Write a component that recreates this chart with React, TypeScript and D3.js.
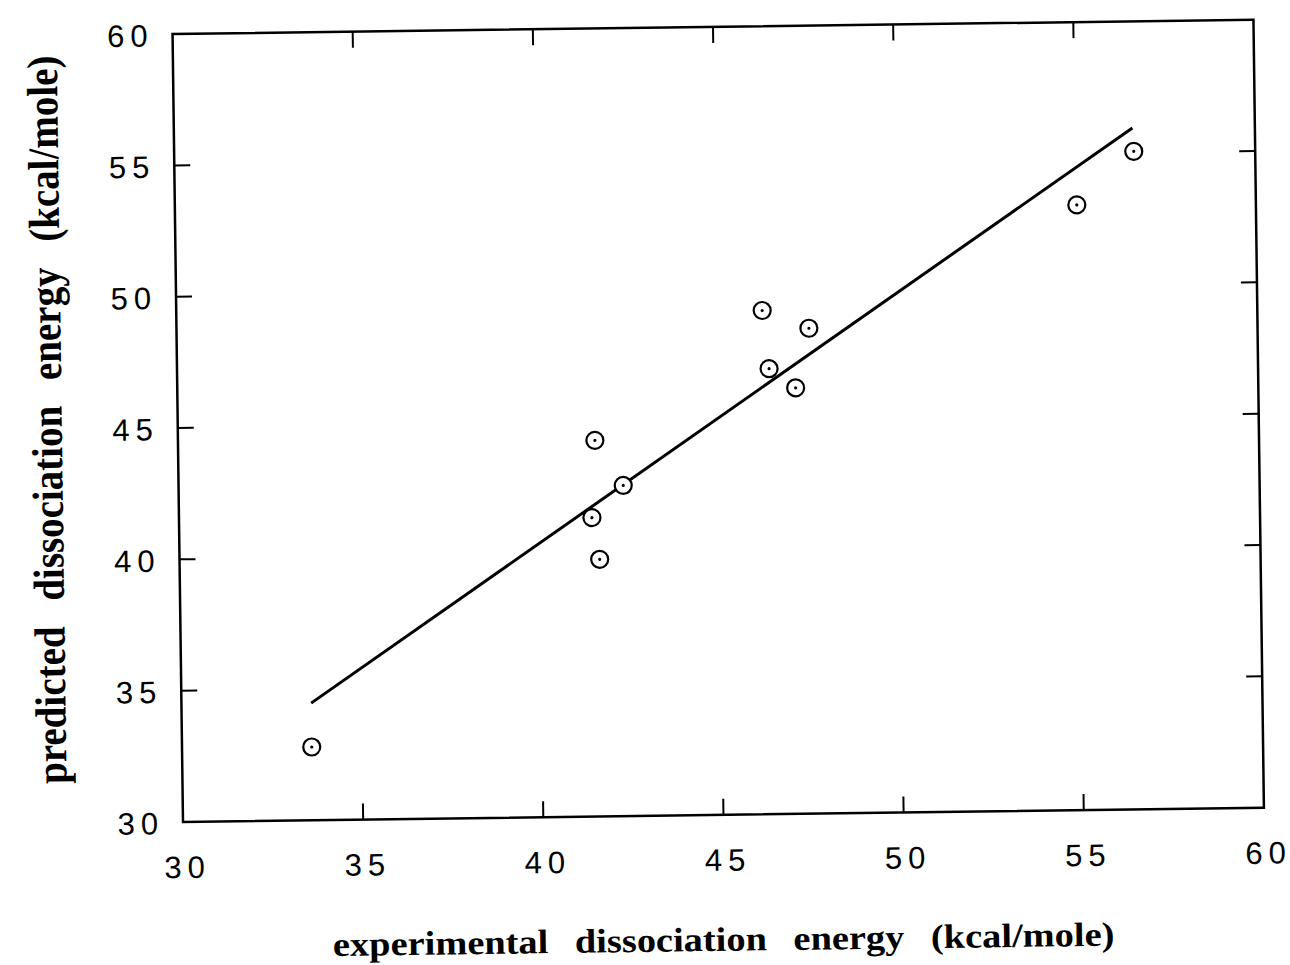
import React from "react";
import * as d3 from "d3";

// values
const xTicks = [30, 35, 40, 45, 50, 55, 60];
const yTicks = [30, 35, 40, 45, 50, 55, 60];
const experimental = [33.6, 41.57, 42.34, 41.46, 41.66, 46.26, 47.55, 46.43, 47.16, 56.63, 55.03];
const predicted = [32.79, 44.32, 42.59, 41.38, 39.79, 49.18, 48.48, 46.96, 46.22, 55.05, 53.04];
const fitX = [33.6, 56.6];
const fitY = [34.46, 55.94];

const xTitle = "experimental dissociation energy (kcal/mole)";
const yTitle = "predicted dissociation energy (kcal/mole)";

const W = 1290;
const H = 965;
const left = 183;
const right = 1264;
const top = 34;
const bottom = 822;
const tilt = -0.76; // the scan is slightly rotated
const tickLen = 16;

const sans = "'Liberation Sans', Arial, Helvetica, sans-serif";
const serif = "'Liberation Serif', 'Times New Roman', Times, serif";

// spaced digits without trailing letter-spacing
const Spaced = ({ s, gap }: { s: string; gap: number }) => (
  <>
    {s.split("").map((c, i) => (
      <tspan key={i} dx={i ? gap : 0}>
        {c}
      </tspan>
    ))}
  </>
);

export default function App() {
  const x = d3.scaleLinear().domain([30, 60]).range([left, right]);
  const y = d3.scaleLinear().domain([30, 60]).range([bottom, top]);

  const fit: [number, number][] = fitX.map((v, i) => [v, fitY[i]]);
  const line = d3
    .line<[number, number]>()
    .x((d) => x(d[0]))
    .y((d) => y(d[1]));

  const inner = xTicks.slice(1, -1);
  const innerY = yTicks.slice(1, -1);
  const gap = 6;

  return (
    <svg
      width={W}
      height={H}
      style={{ position: "absolute", left: 0, top: 0, background: "#fff" }}
    >
      <rect width={W} height={H} fill="#fff" />
      <g transform={`rotate(${tilt},${left},${bottom})`}>
        {/* frame */}
        <rect
          x={left}
          y={top}
          width={right - left}
          height={bottom - top}
          fill="none"
          stroke="#000"
          strokeWidth={2.5}
        />
        {/* inward ticks */}
        {inner.map((t) => (
          <g key={"xt" + t} stroke="#000" strokeWidth={2}>
            <line x1={x(t)} x2={x(t)} y1={bottom} y2={bottom - tickLen} />
            <line x1={x(t)} x2={x(t)} y1={top} y2={top + tickLen} />
          </g>
        ))}
        {innerY.map((t) => (
          <g key={"yt" + t} stroke="#000" strokeWidth={2}>
            <line x1={left} x2={left + tickLen} y1={y(t)} y2={y(t)} />
            <line x1={right} x2={right - tickLen} y1={y(t)} y2={y(t)} />
          </g>
        ))}
        {/* tick labels */}
        {xTicks.map((t) => (
          <text
            key={"xl" + t}
            x={x(t) + 1}
            y={bottom + 56}
            textAnchor="middle"
            fontFamily={sans}
            fontSize={31}
          >
            <Spaced s={String(t)} gap={gap} />
          </text>
        ))}
        {yTicks.map((t) => (
          <text
            key={"yl" + t}
            x={left - 25}
            y={y(t) + 1}
            textAnchor="end"
            dominantBaseline="central"
            fontFamily={sans}
            fontSize={31}
          >
            <Spaced s={String(t)} gap={gap} />
          </text>
        ))}
        {/* regression line */}
        <path d={line(fit) ?? ""} fill="none" stroke="#000" strokeWidth={3} />
        {/* points */}
        {experimental.map((v, i) => (
          <g key={"p" + i}>
            <circle
              cx={x(v)}
              cy={y(predicted[i])}
              r={8.5}
              fill="#fff"
              stroke="#000"
              strokeWidth={2.2}
            />
            <circle cx={x(v)} cy={y(predicted[i])} r={1.6} fill="#000" />
          </g>
        ))}
        {/* axis titles */}
        <text
          transform={`translate(722,958) scale(1.13,1)`}
          textAnchor="middle"
          fontFamily={serif}
          fontWeight="bold"
          fontSize={34}
          wordSpacing={15}
        >
          {xTitle}
        </text>
        <text
          transform={`translate(67,418) rotate(-90) scale(1,1.12)`}
          textAnchor="middle"
          fontFamily={serif}
          fontWeight="bold"
          fontSize={39}
          wordSpacing={16}
        >
          {yTitle}
        </text>
      </g>
    </svg>
  );
}
